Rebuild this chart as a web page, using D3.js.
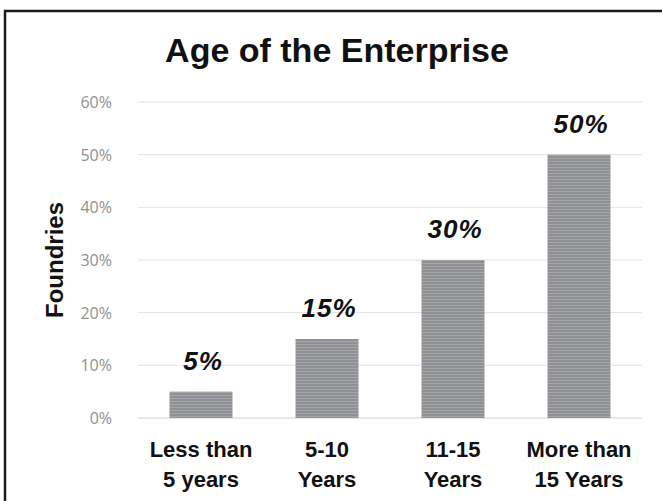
<!DOCTYPE html>
<html>
<head>
<meta charset="utf-8">
<script src="https://cdn.jsdelivr.net/npm/d3@7"></script>
<style>
  body { margin: 0; background: #fff; overflow: hidden; }
  svg { display: block; }
</style>
</head>
<body>
<div id="chart"></div>
<script>
// data
const categories = [["Less than", "5 years"], ["5-10", "Years"], ["11-15", "Years"], ["More than", "15 Years"]];
const values = [0.05, 0.15, 0.30, 0.50];
const yTicks = [0, 0.1, 0.2, 0.3, 0.4, 0.5, 0.6];

const width = 662, height = 501;
const margin = {top: 102, right: 20, bottom: 83, left: 138};
const innerWidth = width - margin.left - margin.right;
const innerHeight = height - margin.top - margin.bottom;

var svg = d3.select("#chart")
  .append("svg")
  .attr("width", width)
  .attr("height", height);

// striped fill for the bars (scanned look)
var pat = svg.append("defs").append("pattern")
  .attr("id", "stripes")
  .attr("patternUnits", "userSpaceOnUse")
  .attr("width", 8).attr("height", 3);
pat.append("rect").attr("width", 8).attr("height", 3).attr("fill", "#8e9093");
pat.append("rect").attr("y", 2).attr("width", 8).attr("height", 1).attr("fill", "#a4a6a9");

// outer frame: only the top and left edges show, the rest runs off the page
svg.append("path")
  .attr("d", "M5," + height + "V11H" + width)
  .attr("fill", "none")
  .attr("stroke", "#1a1a1a")
  .attr("stroke-width", 2.5);

svg.append("text")
  .attr("x", 337).attr("y", 62)
  .attr("text-anchor", "middle")
  .style("font-family", "Liberation Sans, Arial, sans-serif")
  .style("font-weight", "bold")
  .style("font-size", "34px")
  .attr("fill", "#111")
  .text("Age of the Enterprise");

var g = svg.append("g").attr("transform", "translate(" + margin.left + "," + margin.top + ")");

var x = d3.scaleBand()
  .domain(d3.range(categories.length))
  .range([0, innerWidth])
  .paddingInner(0.5)
  .paddingOuter(0.25);

var y = d3.scaleLinear().domain([0, 0.6]).range([innerHeight, 0]);

// gridlines
g.append("g")
  .selectAll("line")
  .data(yTicks)
  .enter()
  .append("line")
  .attr("x1", 0).attr("x2", innerWidth)
  .attr("y1", d => y(d)).attr("y2", d => y(d))
  .attr("stroke", d => d === 0 ? "#cfcfcf" : "#e2e2e2")
  .attr("stroke-width", 1);

// y axis labels
var yAxis = g.append("g")
  .attr("transform", "translate(-26,0)")
  .call(d3.axisLeft(y).tickValues(yTicks).tickFormat(d3.format(".0%")).tickSize(0).tickPadding(0));
yAxis.attr("font-size", null).attr("font-family", null);
yAxis.select(".domain").remove();
yAxis.selectAll("text")
  .attr("dy", "0.35em")
  .style("font-family", "Open Sans, sans-serif")
  .style("font-size", "16px")
  .attr("fill", "#909090");

svg.append("text")
  .attr("transform", "translate(63," + (margin.top + innerHeight / 2) + ") rotate(-90)")
  .attr("text-anchor", "middle")
  .style("font-family", "Liberation Sans, Arial, sans-serif")
  .style("font-weight", "bold")
  .style("font-size", "24px")
  .attr("fill", "#111")
  .text("Foundries");

// bars
g.append("g")
  .selectAll("rect")
  .data(values)
  .enter()
  .append("rect")
  .attr("x", (d, i) => x(i))
  .attr("y", d => y(d))
  .attr("width", x.bandwidth())
  .attr("height", d => innerHeight - y(d))
  .attr("fill", "url(#stripes)");

// value labels
g.append("g")
  .selectAll("text")
  .data(values)
  .enter()
  .append("text")
  .attr("x", (d, i) => x(i) + x.bandwidth() / 2 + 2)
  .attr("y", d => y(d) - 22)
  .attr("text-anchor", "middle")
  .style("font-family", "Liberation Sans, Arial, sans-serif")
  .style("font-weight", "bold")
  .style("font-style", "italic")
  .style("font-size", "26px")
  .style("letter-spacing", "1px")
  .attr("fill", "#111")
  .text(d => d3.format(".0%")(d));

// category labels
var xl = g.append("g")
  .selectAll("text")
  .data(categories)
  .enter()
  .append("text")
  .attr("text-anchor", "middle")
  .style("font-family", "Liberation Sans, Arial, sans-serif")
  .style("font-weight", "bold")
  .style("font-size", "22px")
  .attr("fill", "#111");
xl.each(function(d, i) {
  var t = d3.select(this);
  d.forEach(function(line, j) {
    t.append("tspan")
      .attr("x", x(i) + x.bandwidth() / 2)
      .attr("y", innerHeight + 39 + j * 30)
      .text(line);
  });
});
</script>
</body>
</html>
